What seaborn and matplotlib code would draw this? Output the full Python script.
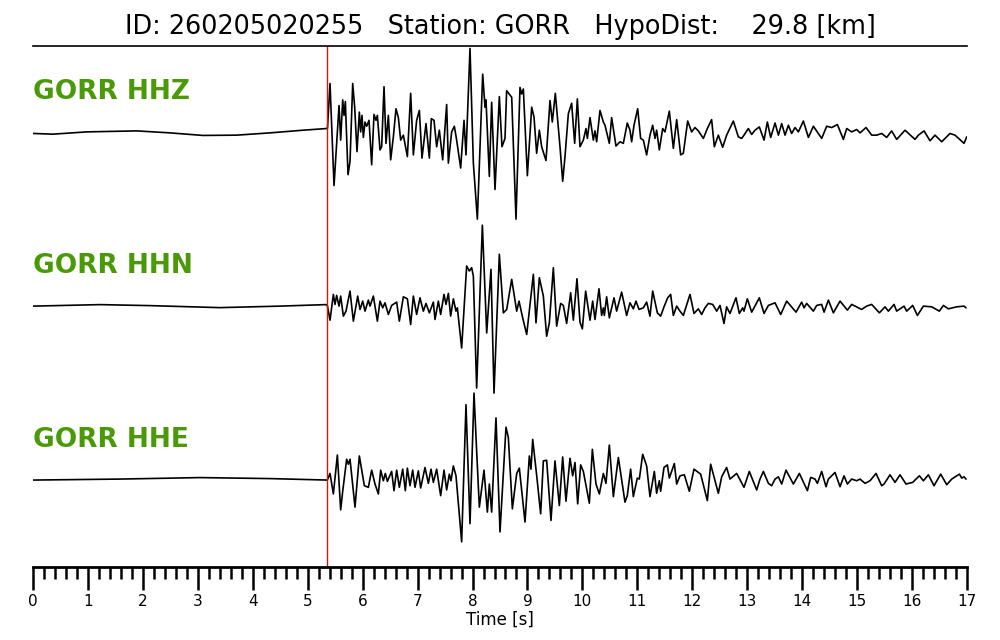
import matplotlib
matplotlib.use('Agg')
import matplotlib.pyplot as plt
from matplotlib.ticker import MultipleLocator
import seaborn as sns
import numpy as np
import pandas as pd

event_id = '260205020255'
station = 'GORR'
hypo_dist = 29.8
channels = ['HHZ', 'HHN', 'HHE']
p_pick = 5.357

# amplitudes (arbitrary units), normalised per trace below
z_t = [0, 0.364, 0.977, 1.888, 2.494, 3.094, 3.708, 4.314, 4.914, 5.346,
       5.36, 5.406, 5.479, 5.570, 5.600, 5.637, 5.661, 5.685, 5.734, 5.770,
       5.819, 5.855, 5.897, 5.940, 5.964, 5.988, 6.013, 6.043, 6.073, 6.116,
       6.164, 6.207, 6.243, 6.268, 6.316, 6.346, 6.389, 6.425, 6.468, 6.510,
       6.559, 6.607, 6.650, 6.692, 6.741, 6.814, 6.874, 6.923, 6.983, 7.032,
       7.080, 7.153, 7.214, 7.250, 7.299, 7.347, 7.396, 7.457, 7.529, 7.560,
       7.620, 7.669, 7.711, 7.784, 7.845, 7.881, 7.954, 8.015, 8.088, 8.185,
       8.227, 8.245, 8.306, 8.348, 8.409, 8.488, 8.536, 8.591, 8.621, 8.713,
       8.791, 8.864, 8.894, 8.925, 8.998, 9.077, 9.119, 9.167, 9.216, 9.258,
       9.337, 9.410, 9.452, 9.507, 9.592, 9.641, 9.683, 9.744, 9.804, 9.859,
       9.908, 9.956, 10.017, 10.065, 10.090, 10.138, 10.199, 10.229, 10.259, 10.320,
       10.381, 10.411, 10.490, 10.532, 10.611, 10.684, 10.745, 10.817, 10.866, 10.896,
       10.939, 11.006, 11.060, 11.109, 11.169, 11.230, 11.279, 11.321, 11.351, 11.400,
       11.461, 11.503, 11.582, 11.655, 11.716, 11.788, 11.837, 11.916, 11.988, 12.049,
       12.110, 12.201, 12.274, 12.352, 12.401, 12.474, 12.553, 12.625, 12.747, 12.838,
       12.899, 12.941, 13.020, 13.081, 13.141, 13.220, 13.306, 13.366, 13.427, 13.506,
       13.567, 13.627, 13.688, 13.749, 13.809, 13.870, 13.931, 14.022, 14.113, 14.204,
       14.355, 14.446, 14.537, 14.641, 14.750, 14.810, 14.901, 14.993, 15.053, 15.162,
       15.266, 15.357, 15.447, 15.538, 15.629, 15.720, 15.872, 16.054, 16.115, 16.218,
       16.327, 16.418, 16.540, 16.691, 16.782, 16.946, 16.995]
z_a = [-1.3, -2, 0.3, 1.3, -0.7, -3.3, -3, -0.7, 2, 3.7,
       4, 49.3, -54, 27, -8, 32.7, 17, 31, -43, -29.7,
       49.3, 25.3, -19.7, 20.3, 0.3, 17, -5.3, 10.3, 6, 12,
       -33, 18, 12, 17, -18, -14.7, 46, -11.3, 17, -28,
       -4.7, 23.7, 14.7, -8, -3, -24.7, 39.3, -23, 12, 22,
       -26.3, 8.7, -26.3, 13.7, 12, -14.7, 2, -28, 28, -31.3,
       0.3, 6, -8, -36.3, 12, -23, 84.7, -31.3, -88, 58.7,
       25.3, 32.7, -44.7, 30.3, -58, 36, -14.7, -6.3, 42, 35.3,
       -88, 45.3, 38.7, 43.7, -44, 25.3, 15.3, -21.3, 2, -14.7,
       -28.7, 32, 10.3, 39.3, -14.7, -49.7, -24.7, 18.7, 29.3, -11.3,
       33.7, -14.7, -8, 3.7, -6.3, 14.7, -8, 1.3, -9.7, 22,
       10.3, 7, -11.3, 14.7, -14, -9.7, -11.3, 9.3, 2, -9.7,
       7, 23.7, -6.3, -8, -23, -3, 7, -6.3, 2, -18,
       3.7, 0.3, 21.3, -16.3, 12.7, -23, -21.3, 11.3, 0.3, 4.7,
       1.3, -6.3, 3.7, 12.7, -14.7, -3, -15.3, -3, 11.3, -4.7,
       -6.3, -3, 3.7, -2.3, 2, 5.3, -8, 10.3, -5.3, 9.3,
       -3, 8.7, -3, 7, -1.3, 4.7, 0.3, 11.3, -5.3, 6,
       -6.3, 6, 4.7, 7.7, -7.3, 3.7, 0.3, 2.7, -0.7, 4.7,
       -3, -3, -1.3, -5.3, 1.3, -7.3, 2, -7.3, -3, 1.3,
       -8.7, -3, -9.7, -1.3, -3, -11.3, -4.7]

n_t = [0, 1.22, 2.13, 3.40, 4.49, 5.33,
       5.357, 5.406, 5.467, 5.497, 5.527, 5.570, 5.600, 5.649, 5.697, 5.770,
       5.831, 5.910, 5.952, 6.001, 6.043, 6.104, 6.134, 6.195, 6.268, 6.316,
       6.365, 6.407, 6.468, 6.528, 6.619, 6.668, 6.741, 6.814, 6.874, 6.923,
       6.983, 7.044, 7.105, 7.153, 7.214, 7.287, 7.317, 7.378, 7.420, 7.481,
       7.517, 7.560, 7.602, 7.651, 7.699, 7.724, 7.802, 7.893, 7.942, 7.984,
       8.015, 8.075, 8.179, 8.258, 8.336, 8.391, 8.488, 8.561, 8.622, 8.713,
       8.804, 8.846, 8.913, 8.986, 9.107, 9.155, 9.216, 9.289, 9.349, 9.398,
       9.471, 9.531, 9.604, 9.653, 9.713, 9.786, 9.835, 9.901, 9.956, 9.999,
       10.059, 10.138, 10.187, 10.229, 10.302, 10.350, 10.381, 10.399, 10.441, 10.490,
       10.575, 10.623, 10.714, 10.805, 10.866, 10.927, 10.975, 11.030, 11.109, 11.169,
       11.230, 11.279, 11.364, 11.424, 11.485, 11.552, 11.606, 11.655, 11.716, 11.776,
       11.837, 11.958, 12.031, 12.110, 12.170, 12.231, 12.292, 12.371, 12.444, 12.504,
       12.577, 12.625, 12.686, 12.795, 12.856, 12.917, 12.941, 13.002, 13.081, 13.220,
       13.306, 13.385, 13.506, 13.609, 13.718, 13.888, 13.991, 14.034, 14.082, 14.204,
       14.264, 14.355, 14.398, 14.477, 14.568, 14.689, 14.823, 14.901, 15.083, 15.174,
       15.265, 15.405, 15.508, 15.569, 15.672, 15.720, 15.854, 15.902, 16.012, 16.097,
       16.206, 16.357, 16.497, 16.570, 16.661, 16.813, 16.946, 16.982]
n_a = [0, 1.5, 0.5, -1.5, 0, 1.5,
       0.7, -14, 11.7, 1.7, 10.7, 0, 10, -10, -5, 15,
       -15, 10, -3.3, 5, -5, 6, 0, 10, -15, 5,
       -1.7, 3.3, -8.3, 0.7, 4, -15, 9.3, 7.3, -18.3, 10,
       -8.3, 8.3, -5, 2.7, -6.7, 4, -13.3, 5, -8.3, 11.7,
       1.7, 12.7, -10, 7.3, -5, -1.7, -41.7, 40, 35, 38.3,
       30, -81.7, 80.7, -26.7, 36.7, -86.7, 51.7, -6.7, -3.3, 26.7,
       -5, 5, -11.7, -28.3, 31.7, -16.7, 28.3, 10, -30, -16.7,
       38.3, -20, 2.7, 0.7, -17.3, 13.3, -14, 27.3, -16, -22.7,
       15, -14, 5, -13.3, 17.3, -9.3, -1.7, -9.3, 9.3, -11.7,
       8.3, -5, 14, -9.3, 3.3, -2.7, 5, -3.3, -1.7, 4,
       -10, 15, -6.7, -10, -0.7, 8.3, 11.7, -9.3, 0, -5,
       -9.3, 11.7, -7.3, -2.7, -8.3, -1.7, 2.7, 1.7, -5, 0.7,
       -17.3, -0.7, -7.3, 8.3, -7.3, -1.7, -5, 7.3, -6, 8.3,
       -7.3, 0.7, 3.3, -8.3, 5, -6, 4, -1.7, 2.7, -5,
       0.7, 1.7, -6, 6, -6.7, 5, -4, 1.7, -3.3, 0,
       1.7, -6.7, -0.7, -5, 1.7, -5, 0, -5, 0.7, -9.3,
       0, -0.7, -5, 0.7, -2.7, -0.7, 0, -1.7]

e_t = [0, 1.58, 3.04, 4.31, 5.33,
       5.357, 5.406, 5.467, 5.540, 5.600, 5.637, 5.709, 5.740, 5.770, 5.861,
       5.940, 6.031, 6.104, 6.164, 6.225, 6.286, 6.328, 6.377, 6.413, 6.450,
       6.528, 6.571, 6.619, 6.668, 6.729, 6.777, 6.814, 6.862, 6.911, 6.953,
       7.014, 7.056, 7.135, 7.196, 7.244, 7.287, 7.347, 7.420, 7.481, 7.529,
       7.578, 7.608, 7.651, 7.699, 7.802, 7.881, 7.954, 8.027, 8.075, 8.124,
       8.209, 8.270, 8.306, 8.348, 8.427, 8.500, 8.609, 8.652, 8.725, 8.804,
       8.852, 8.955, 9.034, 9.064, 9.095, 9.167, 9.240, 9.289, 9.349, 9.428,
       9.501, 9.580, 9.641, 9.701, 9.774, 9.823, 9.865, 9.914, 9.968, 10.017,
       10.126, 10.181, 10.247, 10.308, 10.381, 10.429, 10.490, 10.563, 10.654, 10.775,
       10.817, 10.878, 10.927, 10.999, 11.036, 11.097, 11.169, 11.230, 11.309, 11.351,
       11.400, 11.424, 11.485, 11.546, 11.582, 11.673, 11.716, 11.776, 11.855, 11.946,
       12.031, 12.152, 12.274, 12.334, 12.474, 12.535, 12.625, 12.686, 12.808, 12.941,
       13.038, 13.172, 13.232, 13.294, 13.385, 13.445, 13.506, 13.567, 13.627, 13.706,
       13.840, 13.949, 14.095, 14.155, 14.234, 14.277, 14.355, 14.434, 14.477, 14.598,
       14.689, 14.762, 14.823, 14.901, 14.993, 15.053, 15.144, 15.235, 15.344, 15.447,
       15.490, 15.599, 15.690, 15.781, 15.890, 16.012, 16.133, 16.206, 16.297, 16.400,
       16.521, 16.631, 16.722, 16.861, 16.904, 16.946, 16.982]
e_a = [0, 1, 2.5, 1.5, 0,
       0, 6.7, -14, 25.3, -30, -11.3, 21, 16, 21, -27.3,
       24.3, -5.7, -7.3, 10, -4, -14, 10, -0.7, 6.7, -1.3,
       8.7, -10.7, 10, -7.3, 11, -10.7, 12, -5.7, 10, -7.3,
       9.3, -8, 12.7, -3.3, 11, -2.3, 11, -15.7, 10, -10,
       6, -0.7, 14.3, 4.3, -62.3, 76, -44, 87.7, 29.3, -27.3,
       10, -32.3, -4, -32.3, 62.7, -52.3, 53.3, 42.7, -29, 6.7,
       12, -42.3, 24.3, 11, 41, 5, -34, 19.3, 20, -40.7,
       19.3, -25.7, 23.3, -21.3, 22, 4.3, 17.7, -24, 15.3, 8.7,
       -23.3, 31, -4, -14, 6.7, -3.3, 35.3, -16.7, 22.7, -22.3,
       -15.7, 11, -16.7, 2, 1, 26, 14.3, -16.7, 8.7, -13.3,
       -0.7, -11.3, 12.7, 15.3, 2, 16.7, -4, 4.3, 5.3, -11.3,
       11, 6, -20.7, 16, -13.3, 3.3, 12.7, 1, 6.7, -7.3,
       8.7, -10, 1, 8.7, -3.3, -5.7, 1, 3.3, -4, 10,
       -4, 6.7, -10.7, 2.7, 1, -3.3, 8.7, -6.7, 1, 7.7,
       -6.7, 4.3, -4, 1, -0.7, 1, -3.3, -0.7, 6.7, -5.7,
       -4, 5.3, -2.3, 5.3, -4, -2.3, 4.3, -0.7, 5.3, -5.7,
       6, -4.7, 1, 6, 2, 3.3, 1]

sns.set_style('ticks', {'text.color': 'black', 'axes.labelcolor': 'black',
                        'xtick.color': 'black', 'axes.edgecolor': 'black'})
plt.rcParams['font.family'] = ['DejaVu Sans']

fig = plt.figure(figsize=(10, 6.4), dpi=100)
ax = fig.add_axes([0.033, 0.114, 0.934, 0.814])

traces = [(z_t, z_a), (n_t, n_a), (e_t, e_a)]
for i, (t, a) in enumerate(traces):
    a = np.array(a)
    df = pd.DataFrame({'time': t, 'amp': a / np.abs(a).max() - 2 * i})
    sns.lineplot(data=df, x='time', y='amp', color='black', lw=1.2,
                 estimator=None, sort=False, ax=ax)
    ax.text(0, -2 * i + 0.46, station + ' ' + channels[i], color='#4a9a08',
            fontsize=19, fontweight='bold', va='center', ha='left')

ax.axvline(p_pick, color='#e01010', lw=1.0)

ax.set_xlim(0, 17)
ax.set_ylim(-5.0, 0.99)
ax.set_yticks([])
ax.set_ylabel('')
ax.xaxis.set_major_locator(MultipleLocator(1))
ax.xaxis.set_minor_locator(MultipleLocator(0.2))
ax.tick_params(axis='x', which='major', length=16.5, width=1.8, labelsize=11,
               pad=3, colors='black')
ax.tick_params(axis='x', which='minor', length=8.5, width=1.8, colors='black')
for s in ['left', 'right']:
    ax.spines[s].set_visible(False)
ax.spines['top'].set_linewidth(1.2)
ax.spines['bottom'].set_linewidth(2)
ax.set_xlabel('Time [s]', fontsize=12, labelpad=1)
ax.set_title(f'ID: {event_id}   Station: {station}   HypoDist:    {hypo_dist} [km]',
             fontsize=18.4, pad=9, color='black')

fig.savefig('out.png', dpi=100)
